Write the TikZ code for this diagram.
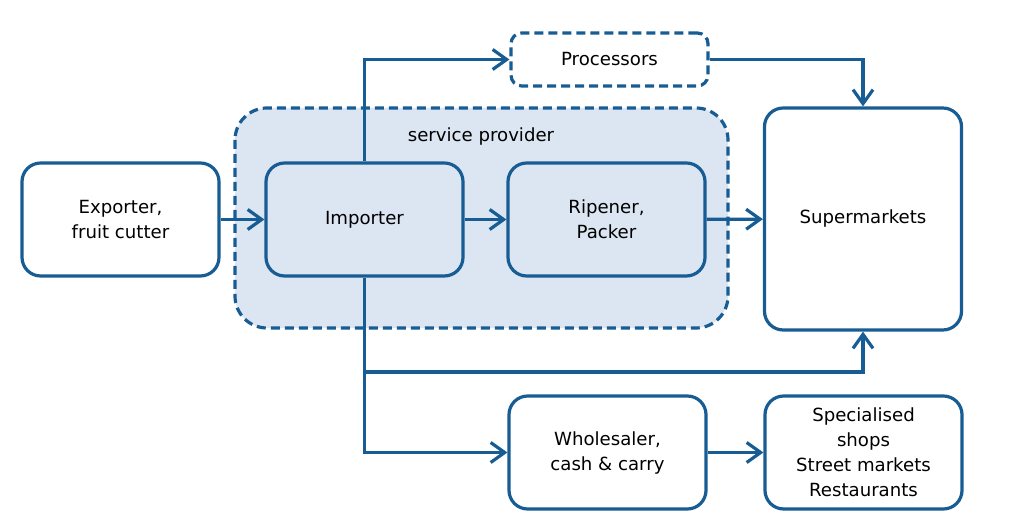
\documentclass[tikz,border=0pt]{standalone}
\usepackage{fontspec}
\setmainfont{DejaVu Sans}
\usetikzlibrary{arrows.meta}
\definecolor{chainblue}{RGB}{24,92,148}
\definecolor{chainfill}{RGB}{220,230,242}

\begin{document}
\begin{tikzpicture}[x=0.75pt,y=0.75pt,yscale=-1,xscale=1,
	actor/.style={draw=chainblue, line width=2.4pt, rounded corners=14pt, minimum width=147.75pt, minimum height=84.75pt, align=center, inner sep=0pt, font=\fontsize{13.6}{18.75}\selectfont},
	optional/.style={actor, dash pattern=on 6.75pt off 3.75pt, minimum height=39.75pt, rounded corners=8pt},
	group/.style={draw=chainblue, fill=chainfill, line width=2.4pt, dash pattern=on 6.75pt off 3.75pt, rounded corners=24pt},
	flow/.style={draw=chainblue, line width=2.4pt, -{Straight Barb[length=10.5pt,width=15pt]}}]
		\useasboundingbox (0,0) rectangle (1024,516);
		% service provider group
		\draw [group] (235,108) rectangle (728,328);
		\node (sp) at (481,137) [font=\fontsize{13.6}{16}\selectfont] {service provider};
		% actors
		\node (exp) at (120.5,219.5) [actor] {Exporter,\\fruit cutter};
		\node (imp) at (364.5,219.5) [actor] {Importer};
		\node (rip) at (606.5,219.5) [actor] {Ripener,\\Packer};
		\node (proc) at (609.5,59.5) [optional] {Processors};
		\node (super) at (863,219) [actor, minimum height=166.5pt] {Supermarkets};
		\node (whole) at (607.5,452.5) [actor] {Wholesaler,\\cash \& carry};
		\node (shops) at (863.5,452.5) [actor] {Specialised\\shops\\Street markets\\Restaurants};
		\coordinate (split) at (364.5,372);
		% flows
		\draw [flow] (exp) -- (imp);
		\draw [flow] (imp) -- (rip);
		\draw [flow] (rip) -- (super);
		\draw [flow] (imp.north) |- (proc);
		\draw [flow] (proc.east) -| (super.north);
		\draw [flow] (imp.south) -- (split) -| (super.south);
		\draw [flow] (split) |- (whole);
		\draw [flow] (whole) -- (shops);
\end{tikzpicture}
\end{document}
